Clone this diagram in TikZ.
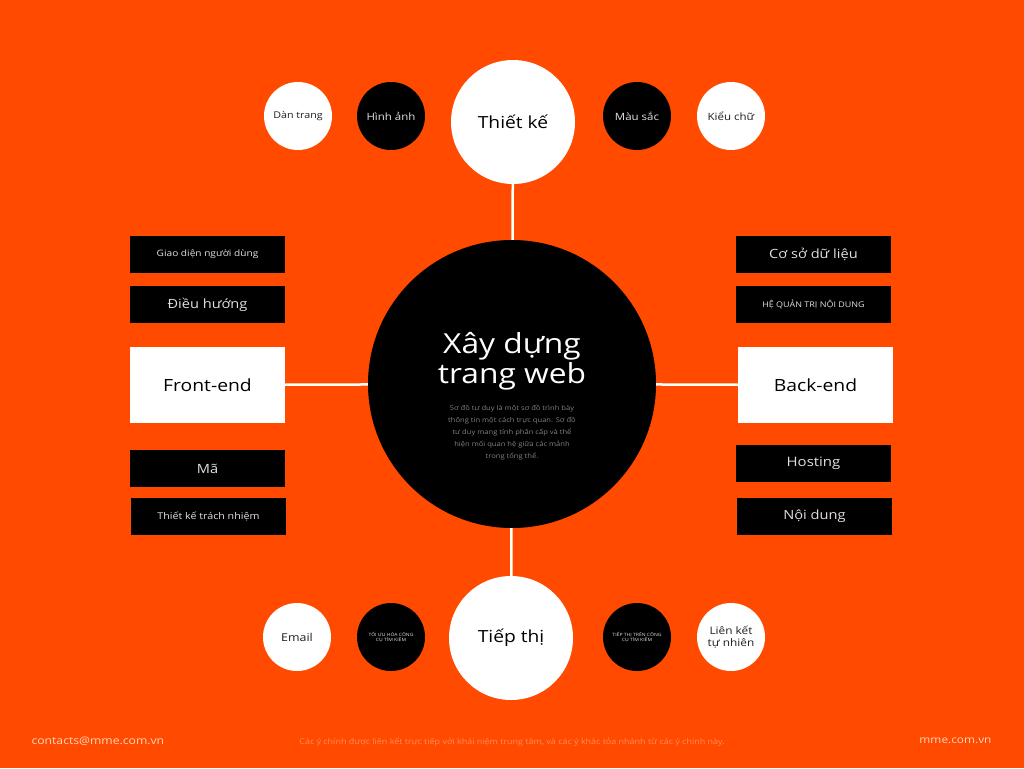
\documentclass[tikz,border=0pt]{standalone}
\usepackage{fontspec}
\setmainfont{Open Sans}[FakeStretch=1.15]
\definecolor{bgor}{RGB}{255,74,0}
\definecolor{ltxt}{RGB}{225,225,225}
\definecolor{dtxt}{RGB}{30,30,30}
\definecolor{ptxt}{RGB}{130,130,130}
\definecolor{foot}{RGB}{255,215,190}
\definecolor{footc}{RGB}{255,140,90}
\begin{document}
\begin{tikzpicture}[x=1pt,y=-1pt,
  fs/.style={font=\fontsize{#1pt}{1.2\dimexpr#1pt\relax}\selectfont},
  bigc/.style={circle,fill=white,minimum size=124pt,inner sep=0pt,text=black,fs=16.7},
  smw/.style={circle,fill=white,minimum size=68pt,inner sep=0pt,text=dtxt,align=center},
  smb/.style={circle,fill=black,minimum size=68pt,inner sep=0pt,text=ltxt,align=center},
  bbox/.style={rectangle,fill=black,minimum width=155pt,minimum height=37pt,inner sep=0pt,text=ltxt,align=center},
  wbox/.style={rectangle,fill=white,minimum width=155pt,minimum height=76pt,inner sep=0pt,text=black,fs=16.8},
  link/.style={draw=white,line width=2.5pt}]
\fill[bgor] (0,0) rectangle (1024,768);
\useasboundingbox (0,0) rectangle (1024,768);
% central
\node[circle,fill=black,minimum size=288pt,inner sep=0pt] (c) at (512,384) {};
\node[text=white,align=center,font=\fontsize{27.6}{30}\selectfont] (ct) at (512,361) {Xây dựng\\trang web};
\node[text=ptxt,align=center,font=\fontsize{6.6}{12}\selectfont] (cp) at (512,433) {Sơ đồ tư duy là một sơ đồ trình bày\\thông tin một cách trực quan. Sơ đồ\\tư duy mang tính phân cấp và thể\\hiện mối quan hệ giữa các mảnh\\trong tổng thể.};
% top/bottom
\node[bigc] (tk) at (513,122) {Thiết kế};
\node[bigc] (tt) at (511,638) {Tiếp thị};
% side boxes
\node[wbox] (fe) at (207.5,385) {Front-end};
\node[wbox] (be) at (815.5,385) {Back-end};
% links
\draw[link] (tk) -- (c);
\draw[link] (tt) -- (c);
\draw[link] (fe) -- (c);
\draw[link] (be) -- (c);
% top small circles
\node[smw,fs=9.3] (dt) at (298,116) {Dàn trang};
\node[smb,fs=10] (ha) at (391,116) {Hình ảnh};
\node[smb,fs=10] (ms) at (637,116) {Màu sắc};
\node[smw,fs=10] (kc) at (731,116) {Kiểu chữ};
% bottom small circles
\node[smw,fs=10.8] (em) at (297,637) {Email};
\node[smb,fs=4.4] (seo) at (391,637) {TỐI ƯU HÓA CÔNG\\CỤ TÌM KIẾM};
\node[smb,fs=4.4] (sem) at (637,637) {TIẾP THỊ TRÊN CÔNG\\CỤ TÌM KIẾM};
\node[smw,fs=10.3] (lk) at (731,637) {Liên kết\\tự nhiên};
% left boxes
\node[bbox,fs=8.8] (gd) at (207.5,254) {Giao diện người dùng};
\node[bbox,fs=12.7] (dh) at (207.5,304.5) {Điều hướng};
\node[bbox,fs=12.7] (ma) at (207.5,468.5) {Mã};
\node[bbox,fs=9.3] (tn) at (208.5,516.5) {Thiết kế trách nhiệm};
% right boxes
\node[bbox,fs=12.7] (cs) at (813.5,254.5) {Cơ sở dữ liệu};
\node[bbox,fs=7.8] (hq) at (813.5,304.5) {HỆ QUẢN TRỊ NỘI DUNG};
\node[bbox,fs=13] (ho) at (813.5,463.5) {Hosting};
\node[bbox,fs=12.7] (nd) at (814.5,516.5) {Nội dung};
% footer
\node[text=foot,anchor=west,fs=10.6] (f1) at (28,741) {contacts@mme.com.vn};
\node[text=footc,fs=7.8] (f2) at (512,742) {Các ý chính được liên kết trực tiếp với khái niệm trung tâm, và các ý khác tỏa nhánh từ các ý chính này.};
\node[text=foot,anchor=east,fs=10.3] (f3) at (995,741) {mme.com.vn};
\end{tikzpicture}
\end{document}
